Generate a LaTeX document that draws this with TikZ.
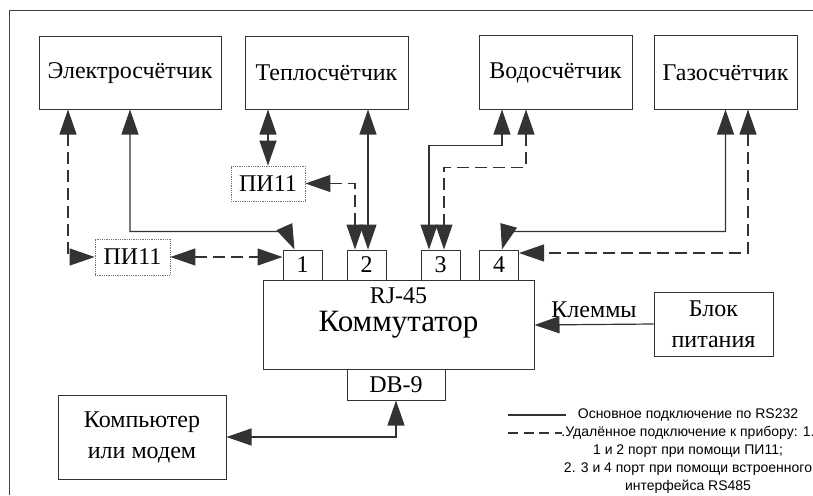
\documentclass[tikz,border=0pt]{standalone}
\usepackage{fontspec}
\setmainfont{Liberation Serif}
\setsansfont{Liberation Sans}
\usetikzlibrary{arrows.meta}

\begin{document}
\begin{tikzpicture}[x=1pt,y=-1pt,
  box/.style={draw=black!80,line width=1pt,inner sep=0pt,font=\fontsize{24}{31}\selectfont},
  pibox/.style={draw=black!55,densely dotted,line width=0.8pt,inner sep=0pt,font=\fontsize{24}{28}\selectfont},
  port/.style={box,minimum width=39pt,minimum height=30pt},
  sol/.style={draw=black!80,line width=1.2pt},
  dsh/.style={sol,dash pattern=on 12pt off 6pt},
  both/.style={{Triangle[length=25pt,width=17pt]}-{Triangle[length=25pt,width=17pt]}},
  tip/.style={-{Triangle[length=25pt,width=17pt]}}]
\useasboundingbox (0,0) rectangle (813,495);
\draw[black!75,line width=1pt] (9,495) -- (9,11) -- (813,11);

\node[box,minimum width=182pt,minimum height=72pt] (el) at (130,73) {Электросчётчик};
\node[box,minimum width=163pt,minimum height=72pt] (tep) at (326.5,73) {Теплосчётчик};
\node[box,minimum width=153pt,minimum height=73pt] (vod) at (555.5,72.5) {Водосчётчик};
\node[box,minimum width=143pt,minimum height=73pt] (gas) at (725.5,72.5) {Газосчётчик};
\node[pibox,minimum width=74pt,minimum height=35pt] (piup) at (268,183.5) {ПИ11};
\node[pibox,minimum width=75pt,minimum height=36pt] (pilow) at (132.5,257) {ПИ11};

\node[port] (port1) at (302.5,265) {1};
\node[port] (port2) at (366.5,265) {2};
\node[port] (port3) at (440.5,265) {3};
\node[port] (port4) at (499,265) {4};
\node[box,minimum width=271pt,minimum height=89pt,font=\fontsize{31}{34}\selectfont] (komm) at (398.5,325) {Коммутатор};
\node[font=\fontsize{24}{28}\selectfont] (rj) at (398.5,296) {RJ-45};
\node[box,minimum width=98pt,minimum height=31pt] (db9) at (396,384.5) {DB-9};
\node[box,minimum width=168pt,minimum height=84pt,align=center] (pc) at (142,437) {Компьютер\\или модем};
\node[box,minimum width=119pt,minimum height=64pt,align=center] (bp) at (713.5,324) {Блок\\питания};

\draw[sol,both] (el.south) |- ([xshift=-16pt,yshift=18pt]port1.north) -- ([xshift=-8pt]port1.north);
\draw[dsh,both] ([xshift=-62pt]el.south) |- (pilow.west);
\draw[dsh,both] (pilow.east) -- (pilow.east -| port1.west);
\draw[dsh,both] (piup.north |- tep.south) -- (piup.north);
\draw[dsh,both] (piup.east) -| ([xshift=-11.5pt]port2.north);
\draw[sol,both] ([xshift=1.5pt]port2.north |- tep.south) -- ([xshift=1.5pt]port2.north);
\draw[sol,both] ([xshift=-53.5pt]vod.south) |- ([xshift=-11.5pt,yshift=104pt]port3.north) -- ([xshift=-11.5pt]port3.north);
\draw[dsh,both] ([xshift=-29.5pt]vod.south) |- ([xshift=3.5pt,yshift=82pt]port3.north) -- ([xshift=3.5pt]port3.north);
\draw[sol,both] (gas.south) |- ([xshift=8pt,yshift=18pt]port4.north) -- ([xshift=3pt]port4.north);
\draw[dsh,both] ([xshift=22.5pt]gas.south) |- ([yshift=12pt]port4.east);
\draw[sol,tip] (bp.west) -- node[above=3pt,font=\fontsize{24}{28}\selectfont] {Клеммы} (komm.east);
\draw[sol,both] (db9.south) |- (pc.east);

\coordinate (lsol) at (508,415);
\coordinate (ldsh) at (508,433);
\draw[sol] (lsol) -- ++(58,0);
\draw[sol,dash pattern=on 10pt off 5.5pt] (ldsh) -- ++(54,0);
\node[font=\sffamily\fontsize{14}{18}\selectfont,align=center,inner sep=0pt] (leg) at (688,451)
  {Основное подключение по RS232\\.Удалённое подключение к прибору: 1.\\1 и 2 порт при помощи ПИ11;\\2. 3 и 4 порт при помощи встроенного\\интерфейса RS485};
\end{tikzpicture}
\end{document}
